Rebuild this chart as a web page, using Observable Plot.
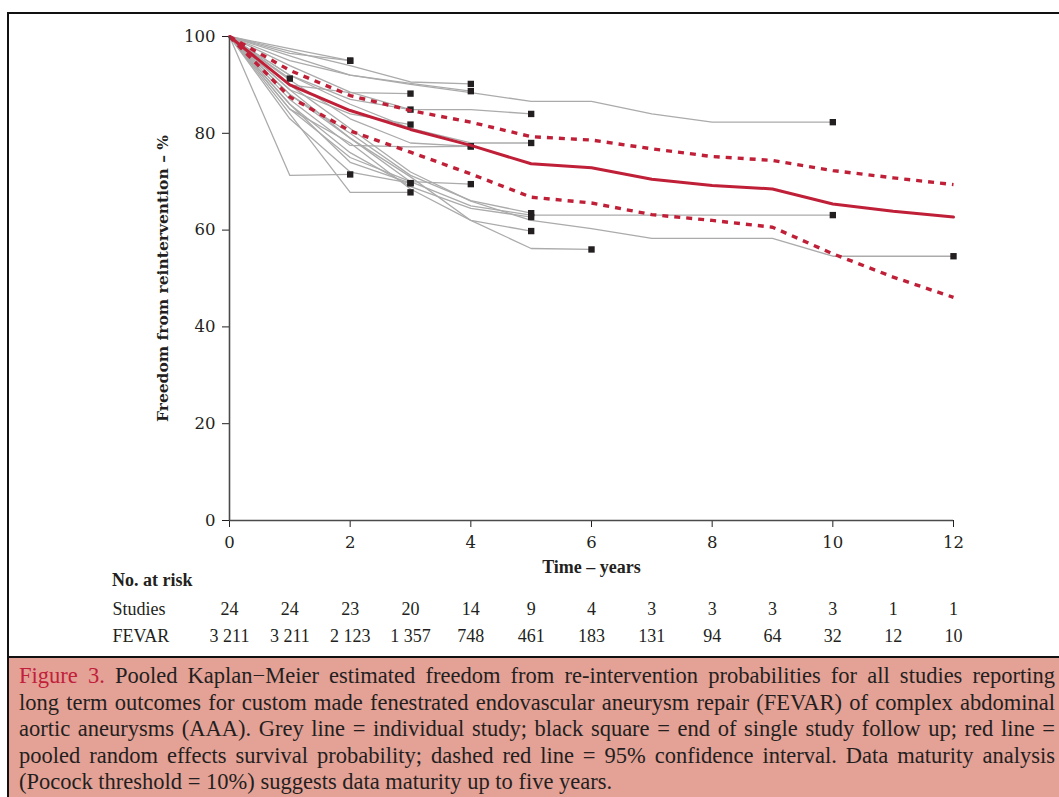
<!DOCTYPE html>
<html>
<head>
<meta charset="utf-8">
<script src="https://cdn.jsdelivr.net/npm/d3@7"></script>
<script src="https://cdn.jsdelivr.net/npm/@observablehq/plot@0.6"></script>
<style>
  html, body { margin: 0; padding: 0; background: #fff; }
  #fig { position: relative; width: 1059px; height: 797px; overflow: hidden; }
  #frame { position: absolute; left: 7px; top: 12px; width: 1070px; height: 643px; border: 2px solid #111; }
  #main { position: absolute; left: 0; top: 0; }
  #risk { position: absolute; left: 0; top: 596px; }
  #riskTitle { position: absolute; left: 112px; top: 570px; font: bold 18px "Liberation Serif", serif; color: #231f20; }
  #caption { position: absolute; left: 7px; top: 656px; width: 1070px; height: 160px; background: #e4a196; border: 2px solid #111; }
  #capText { position: absolute; left: 10px; top: 5px; width: 1036px; font: 22.5px/26.6px "Liberation Serif", serif; color: #231f20; }
  #capText div { text-align: justify; text-align-last: justify; white-space: nowrap; }
  #capText div.last { text-align-last: left; }
  #capText .fig { color: #c0203a; }
  g[aria-label="x-axis label"] text, g[aria-label="y-axis label"] text { font-weight: bold; }
  g[aria-label="x-axis label"] text { font-family: "Liberation Serif", serif; font-size: 18px; }
  g[aria-label="y-axis label"] text { font-size: 15.5px; }
</style>
</head>
<body>
<div id="fig">
  <div id="frame"></div>
  <div id="main"></div>
  <div id="riskTitle">No. at risk</div>
  <div id="risk"></div>
  <div id="caption">
    <div id="capText">
      <div><span class="fig">Figure 3.</span> Pooled Kaplan−Meier estimated freedom from re-intervention probabilities for all studies reporting</div>
      <div>long term outcomes for custom made fenestrated endovascular aneurysm repair (FEVAR) of complex abdominal</div>
      <div>aortic aneurysms (AAA). Grey line = individual study; black square = end of single study follow up; red line =</div>
      <div>pooled random effects survival probability; dashed red line = 95% confidence interval. Data maturity analysis</div>
      <div class="last">(Pocock threshold = 10%) suggests data maturity up to five years.</div>
    </div>
  </div>
</div>
<script>
// ---- Data ----
const years = [0, 1, 2, 3, 4, 5, 6, 7, 8, 9, 10, 11, 12];
const xTicks = [0, 2, 4, 6, 8, 10, 12];
const yTicks = [0, 20, 40, 60, 80, 100];

const pooled  = [100, 90.0, 84.7, 80.8, 77.5, 73.7, 72.9, 70.5, 69.2, 68.5, 65.4, 63.9, 62.7];
const upperCI = [100, 93.0, 87.8, 84.7, 82.3, 79.3, 78.6, 76.8, 75.2, 74.4, 72.3, 70.8, 69.4];
const lowerCI = [100, 87.5, 80.5, 76.1, 71.6, 66.8, 65.6, 63.2, 62.0, 60.6, 55.1, 50.3, 46.1];

// individual studies: values at years 0,1,2,... until end of follow up
const studyCurves = [
  [100, 91.3],
  [100, 97.5, 95.0],
  [100, 96.5, 95.0],
  [100, 71.3, 71.5],
  [100, 90, 88.4, 88.2],
  [100, 92, 87, 84.9],
  [100, 89, 84, 81.8],
  [100, 83, 72, 69.7],
  [100, 86, 74, 69.7],
  [100, 84, 67.8, 67.8],
  [100, 97, 94, 90.6, 90.2],
  [100, 95, 92, 90.3, 88.7],
  [100, 87, 77.5, 77.2, 77.3],
  [100, 91, 83, 78, 77.3],
  [100, 85, 75, 70, 69.5],
  [100, 94, 88.5, 84.9, 84.9, 84.0],
  [100, 92, 86, 81, 78.0, 78.0],
  [100, 88, 80, 71.3, 66.1, 63.5],
  [100, 86, 76, 69, 64.5, 62.7],
  [100, 85, 78, 68.5, 62, 59.8],
  [100, 96, 92, 90.1, 88.4, 86.6, 86.6, 84.0, 82.3, 82.3, 82.3],
  [100, 89, 79, 70, 65, 63.1, 63.1, 63.1, 63.1, 63.1, 63.1],
  [100, 90, 81, 72, 66, 62.0, 60.3, 58.3, 58.3, 58.3, 54.6, 54.6, 54.6],
  [100, 88, 79, 71, 62, 56.2, 56.0]
];

const riskRows = ["Studies", "FEVAR"];
const atRiskStudies = ["24", "24", "23", "20", "14", "9", "4", "3", "3", "3", "3", "1", "1"];
const atRiskFevar = ["3 211", "3 211", "2 123", "1 357", "748", "461", "183", "131", "94", "64", "32", "12", "10"];

// ---- Derived tables ----
const studyPts = studyCurves.flatMap((c, i) => c.map((v, j) => ({study: i, t: years[j], v})));
const studyEnds = studyCurves.map((c, i) => ({t: years[c.length - 1], v: c[c.length - 1]}));
const toPts = arr => arr.map((v, j) => ({t: years[j], v}));
const riskData = [
  ...atRiskStudies.map((s, j) => ({row: "Studies", t: years[j], s})),
  ...atRiskFevar.map((s, j) => ({row: "FEVAR", t: years[j], s}))
];

const red = "#c01f38";
const axisColor = "#4a4a4a";

const main = Plot.plot({
  width: 1059, height: 580,
  marginLeft: 229, marginRight: 106, marginTop: 36, marginBottom: 60,
  style: {fontFamily: "DejaVu Serif, serif", fontSize: "16.5px", color: "#231f20", background: "transparent"},
  x: {domain: [0, 12], ticks: xTicks, tickSize: 7, tickPadding: 9, label: "Time – years", labelAnchor: "center", labelOffset: 52, labelArrow: "none"},
  y: {domain: [0, 100], ticks: yTicks, tickSize: 7, tickPadding: 7, label: "Freedom from reintervention – %", labelAnchor: "center", labelOffset: 73, labelArrow: "none"},
  marks: [
    Plot.line(studyPts, {x: "t", y: "v", z: "study", stroke: "#ababab", strokeWidth: 1.3}),
    Plot.dot(studyEnds, {x: "t", y: "v", symbol: "square", r: 3.6, fill: "#231f20", stroke: "none"}),
    Plot.line(toPts(upperCI), {x: "t", y: "v", stroke: red, strokeWidth: 3.4, strokeDasharray: "6,6", strokeLinecap: "butt"}),
    Plot.line(toPts(lowerCI), {x: "t", y: "v", stroke: red, strokeWidth: 3.4, strokeDasharray: "6,6", strokeLinecap: "butt"}),
    Plot.line(toPts(pooled), {x: "t", y: "v", stroke: red, strokeWidth: 3}),
    Plot.ruleX([0], {stroke: axisColor, strokeWidth: 1.6}),
    Plot.ruleY([0], {stroke: axisColor, strokeWidth: 1.6})
  ]
});
document.getElementById("main").appendChild(main);

const risk = Plot.plot({
  width: 1059, height: 54,
  marginLeft: 229, marginRight: 106, marginTop: 13, marginBottom: 14,
  style: {fontFamily: "Liberation Serif, serif", fontSize: "18px", color: "#231f20", background: "transparent"},
  x: {domain: [0, 12], axis: null},
  y: {type: "point", domain: riskRows, padding: 0, axis: null},
  marks: [
    Plot.text(riskRows, {y: d => d, text: d => d, frameAnchor: "left", textAnchor: "start", dx: -117}),
    Plot.text(riskData, {x: "t", y: "row", text: "s"})
  ]
});
document.getElementById("risk").appendChild(risk);
</script>
</body>
</html>
